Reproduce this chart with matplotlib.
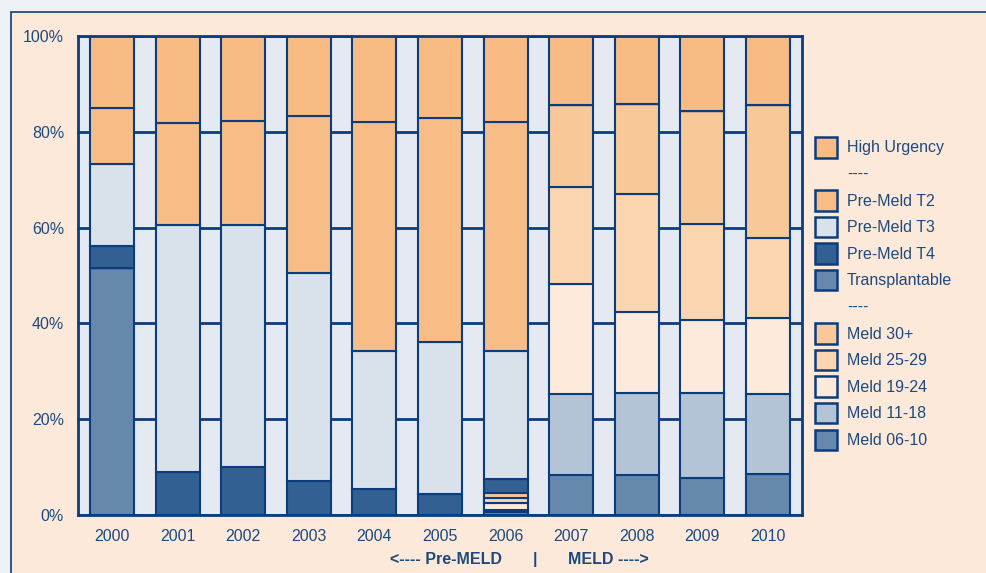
import numpy as np
import matplotlib
matplotlib.use("Agg")
import matplotlib.pyplot as plt
from matplotlib.patches import Rectangle

plt.rcParams['font.family'] = ['Liberation Sans', 'DejaVu Sans']

# jaren en aandelen (%), van onder naar boven gestapeld
years = ['2000', '2001', '2002', '2003', '2004', '2005', '2006', '2007', '2008', '2009', '2010']

transplantable = [51.6, 0, 0, 0, 0, 0, 0, 0, 0, 0, 0]
meld_06_10 = [0, 0, 0, 0, 0, 0, 0.6, 8.4, 8.4, 7.7, 8.6]
meld_11_18 = [0, 0, 0, 0, 0, 0, 0.5, 16.9, 17.1, 17.8, 16.7]
meld_19_24 = [0, 0, 0, 0, 0, 0, 1.4, 22.9, 16.9, 15.2, 15.9]
meld_25_29 = [0, 0, 0, 0, 0, 0, 1.0, 20.3, 24.6, 20.1, 16.7]
meld_30 = [0, 0, 0, 0, 0, 0, 1.1, 17.1, 18.9, 23.5, 27.6]
pre_t4 = [4.6, 9.0, 10.0, 7.1, 5.4, 4.4, 2.9, 0, 0, 0, 0]
pre_t3 = [17.1, 51.5, 50.5, 43.4, 28.8, 31.7, 26.8, 0, 0, 0, 0]
pre_t2 = [11.7, 21.3, 21.8, 32.8, 47.8, 46.8, 47.7, 0, 0, 0, 0]
high_urgency = [15.0, 18.2, 17.7, 16.7, 18.0, 17.1, 18.0, 14.4, 14.1, 15.7, 14.5]

EDGE = '#0b3d7e'
TXT = '#1c4a7e'

stack = [
    (transplantable, '#6688ad'),
    (meld_06_10, '#6688ad'),
    (meld_11_18, '#b3c4d6'),
    (meld_19_24, '#fdeadb'),
    (meld_25_29, '#fad5b0'),
    (meld_30, '#f8c899'),
    (pre_t4, '#336092'),
    (pre_t3, '#d9e1ea'),
    (pre_t2, '#f8bd86'),
    (high_urgency, '#f8bb83'),
]

fig = plt.figure(figsize=(9.87, 5.73), dpi=100, facecolor='#eef2f7')
frame = Rectangle((11 / 987, -0.1), 1.2, 1.1 - 12 / 573,
                  transform=fig.transFigure, facecolor='#fde9da',
                  edgecolor=EDGE, linewidth=1.2, zorder=-5)
fig.patches.append(frame)

ax = fig.add_axes([78 / 987, 58 / 573, 724 / 987, 479 / 573])
ax.set_facecolor('#e4e9f2')

x = np.arange(len(years))
bottom = np.zeros(len(years))
for vals, col in stack:
    vals = np.array(vals)
    ax.bar(x, vals, 0.67, bottom=bottom, color=col, edgecolor=EDGE,
           linewidth=1.5, zorder=3)
    bottom += vals

ax.set_xlim(-0.52, 10.52)
ax.set_ylim(0, 100)
ax.set_yticks([0, 20, 40, 60, 80, 100])
ax.set_yticklabels(['0%', '20%', '40%', '60%', '80%', '100%'])
ax.set_xticks(x)
ax.set_xticklabels(years)
ax.tick_params(length=0, labelsize=11.5, labelcolor=TXT)
ax.tick_params(axis='x', pad=10)
ax.tick_params(axis='y', pad=10)
ax.grid(axis='y', color=EDGE, linewidth=2, zorder=1)
ax.set_axisbelow(True)
for s in ax.spines.values():
    s.set_color(EDGE)
    s.set_linewidth(2)
    s.set_zorder(4)

# onderschrift Pre-MELD | MELD
tr = ax.get_xaxis_transform()
ax.text(6.45, -0.092, '|', transform=tr, ha='center', va='center',
        fontsize=11.5, fontweight='bold', color=TXT)
ax.text(5.95, -0.092, '<---- Pre-MELD', transform=tr, ha='right', va='center',
        fontsize=11.5, fontweight='bold', color=TXT)
ax.text(6.95, -0.092, 'MELD ---->', transform=tr, ha='left', va='center',
        fontsize=11.5, fontweight='bold', color=TXT)

# legenda
leg_items = [
    ('High Urgency', '#f8bb83'),
    ('----', None),
    ('Pre-Meld T2', '#f8bd86'),
    ('Pre-Meld T3', '#d9e1ea'),
    ('Pre-Meld T4', '#336092'),
    ('Transplantable', '#6688ad'),
    ('----', None),
    ('Meld 30+', '#f8c899'),
    ('Meld 25-29', '#fad5b0'),
    ('Meld 19-24', '#fdeadb'),
    ('Meld 11-18', '#b3c4d6'),
    ('Meld 06-10', '#6688ad'),
]
handles = []
for lab, col in leg_items:
    if col is None:
        handles.append(Rectangle((0, 0), 1, 1, facecolor='none', edgecolor='none'))
    else:
        handles.append(Rectangle((0, 0), 1, 1, facecolor=col, edgecolor=EDGE, linewidth=1.8))
leg = fig.legend(handles, [l for l, _ in leg_items], loc='upper left',
                 bbox_to_anchor=(815 / 987, 1 - 137 / 573), frameon=False,
                 fontsize=11.5, handlelength=1.4, handleheight=1.6,
                 labelspacing=0.38, handletextpad=0.6, borderaxespad=0,
                 borderpad=0)
for t in leg.get_texts():
    t.set_color(TXT)

fig.savefig('out.png', dpi=100, facecolor=fig.get_facecolor())
